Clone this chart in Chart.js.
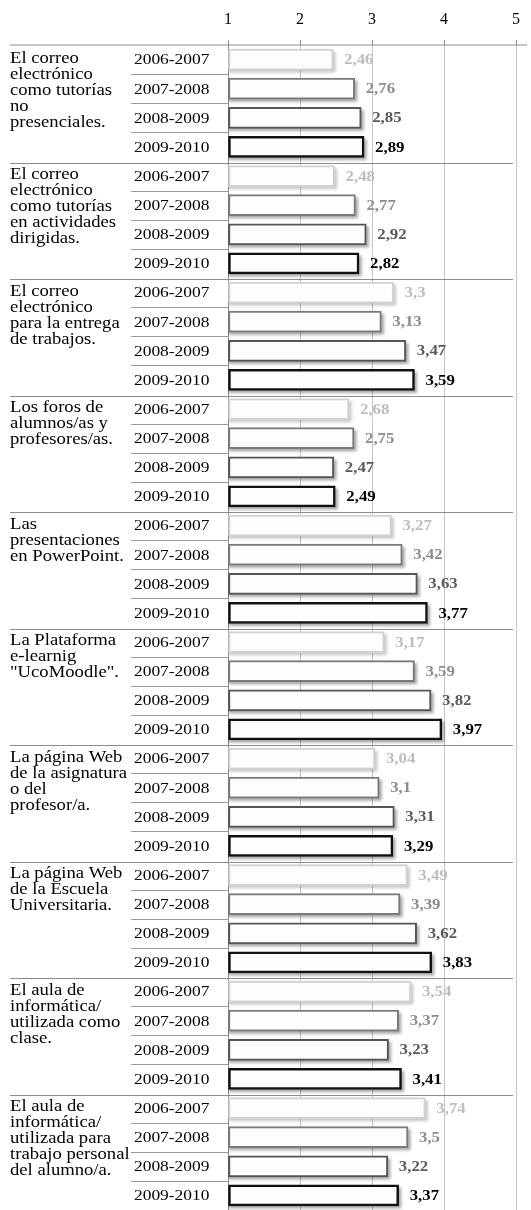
<!DOCTYPE html>
<html>
<head>
<meta charset="utf-8">
<script src="https://cdn.jsdelivr.net/npm/chart.js@4.4.1/dist/chart.umd.min.js"></script>
<style>
  html, body { margin: 0; padding: 0; background: #fff; overflow: hidden; }
  canvas { display: block; }
</style>
</head>
<body>
<canvas id="chart" width="531" height="1210"></canvas>
<script>
const years = ['2006-2007', '2007-2008', '2008-2009', '2009-2010'];
const groups = [
  ['El correo', 'electrónico', 'como tutorías', 'no', 'presenciales.'],
  ['El correo', 'electrónico', 'como tutorías', 'en actividades', 'dirigidas.'],
  ['El correo', 'electrónico', 'para la entrega', 'de trabajos.'],
  ['Los foros de', 'alumnos/as y', 'profesores/as.'],
  ['Las', 'presentaciones', 'en PowerPoint.'],
  ['La Plataforma', 'e-learnig', '"UcoMoodle".'],
  ['La página Web', 'de la asignatura', 'o del', 'profesor/a.'],
  ['La página Web', 'de la Escuela', 'Universitaria.'],
  ['El aula de', 'informática/', 'utilizada como', 'clase.'],
  ['El aula de', 'informática/', 'utilizada para', 'trabajo personal', 'del alumno/a.']
];
const v0607 = [2.46, 2.48, 3.3, 2.68, 3.27, 3.17, 3.04, 3.49, 3.54, 3.74];
const v0708 = [2.76, 2.77, 3.13, 2.75, 3.42, 3.59, 3.1, 3.39, 3.37, 3.5];
const v0809 = [2.85, 2.92, 3.47, 2.47, 3.63, 3.82, 3.31, 3.62, 3.23, 3.22];
const v0910 = [2.89, 2.82, 3.59, 2.49, 3.77, 3.97, 3.29, 3.83, 3.41, 3.37];
const xTicks = [1, 2, 3, 4, 5];

// one style per school year
const borderColors = ['#d2d2d2', '#7a7a7a', '#555555', '#111111'];
const borderWidths = [2, 2, 2, 2.5];
const labelColors = ['#bdbdbd', '#8c8c8c', '#5a5a5a', '#000000'];

const series = [v0607, v0708, v0809, v0910];
const labels = groups.flatMap(() => years);
const values = groups.flatMap((g, i) => series.map(s => s[i]));
const yearOf = i => i % 4;
const fmt = v => String(v).replace('.', ',');

const serif = '"Liberation Serif", "DejaVu Serif", serif';

const band = y => (y.getPixelForValue(1) - y.getPixelForValue(0));

// the scanned text is wider than plain Times, so stretch it a bit
const wideText = (ctx, text, x, y, k) => {
  ctx.save();
  ctx.translate(x, y);
  ctx.scale(k, 1);
  ctx.fillText(text, 0, 0);
  ctx.restore();
};

const shadowPlugin = {
  id: 'shadows',
  beforeDatasetsDraw(chart) {
    const ctx = chart.ctx;
    const a = chart.chartArea;
    ctx.save();
    ctx.beginPath();
    ctx.rect(a.left, a.top, a.right - a.left + 20, a.bottom - a.top);
    ctx.clip();
    ctx.filter = 'blur(1.5px)';
    chart.getDatasetMeta(0).data.forEach((bar, i) => {
      const h = bar.height;
      ctx.fillStyle = yearOf(i) === 0 ? 'rgba(0,0,0,0.22)' : 'rgba(0,0,0,0.35)';
      ctx.fillRect(bar.base, bar.y - h / 2 + 2.5, bar.x - bar.base + 2.5, h);
    });
    ctx.restore();
  }
};

const tablePlugin = {
  id: 'table',
  afterDraw(chart) {
    const ctx = chart.ctx;
    const y = chart.scales.y;
    const x = chart.scales.x;
    const step = band(y);
    ctx.save();

    // value labels
    ctx.textAlign = 'left';
    ctx.textBaseline = 'middle';
    ctx.font = 'bold 14px ' + serif;
    chart.getDatasetMeta(0).data.forEach((bar, i) => {
      ctx.fillStyle = labelColors[yearOf(i)];
      wideText(ctx, fmt(values[i]), bar.x + 11, bar.y + 1, 1.2);
    });

    // year labels
    ctx.font = '14.5px ' + serif;
    ctx.fillStyle = '#000';
    labels.forEach((l, i) => wideText(ctx, l, 134, y.getPixelForValue(i) + 1, 1.2));

    // separators between years (label column only)
    ctx.lineWidth = 1;
    ctx.strokeStyle = '#9a9a9a';
    labels.forEach((l, i) => {
      if (i % 4 === 0) return;
      const yy = Math.round(y.getPixelForValue(i) - step / 2) + 0.5;
      ctx.beginPath();
      ctx.moveTo(131, yy);
      ctx.lineTo(x.left, yy);
      ctx.stroke();
    });

    // separators between groups + top rule
    ctx.strokeStyle = '#8c8c8c';
    groups.forEach((g, gi) => {
      const yy = gi === 0 ? x.bottom : Math.round(y.getPixelForValue(gi * 4) - step / 2) + 1.5;
      ctx.beginPath();
      ctx.moveTo(10, yy);
      ctx.lineTo(gi === 0 ? 527 : 513, yy);
      ctx.stroke();
    });

    // group labels
    ctx.font = '16.5px ' + serif;
    ctx.fillStyle = '#000';
    ctx.textBaseline = 'top';
    groups.forEach((g, gi) => {
      const top = y.getPixelForValue(gi * 4) - step / 2 + 5;
      g.forEach((line, li) => wideText(ctx, line, 10, top + li * 16, 1.13));
    });

    ctx.restore();
  }
};

new Chart(document.getElementById('chart'), {
  type: 'bar',
  data: {
    labels: labels,
    datasets: [{
      data: values,
      base: 1,
      backgroundColor: '#fdfdfd',
      borderColor: values.map((v, i) => borderColors[yearOf(i)]),
      borderWidth: values.map((v, i) => borderWidths[yearOf(i)]),
      borderSkipped: false,
      barThickness: 21
    }]
  },
  options: {
    indexAxis: 'y',
    responsive: false,
    animation: false,
    layout: { padding: { left: 0, right: 9, top: 0, bottom: 0 } },
    plugins: {
      legend: { display: false },
      tooltip: { enabled: false }
    },
    scales: {
      x: {
        position: 'top',
        min: 1,
        max: 5,
        afterBuildTicks: s => { s.ticks = xTicks.map(v => ({ value: v })); },
        afterFit: s => { s.height = 45; },
        ticks: {
          color: '#000',
          font: { family: serif, size: 16 },
          padding: 11
        },
        grid: {
          color: '#c4c4c4',
          lineWidth: 1,
          tickLength: 5,
          tickColor: '#8c8c8c'
        },
        border: { display: false }
      },
      y: {
        afterFit: s => { s.width = 228; },
        ticks: { display: false },
        grid: { display: false, drawTicks: false },
        border: { display: true, color: '#8c8c8c', width: 1 }
      }
    }
  },
  plugins: [shadowPlugin, tablePlugin]
});
</script>
</body>
</html>
